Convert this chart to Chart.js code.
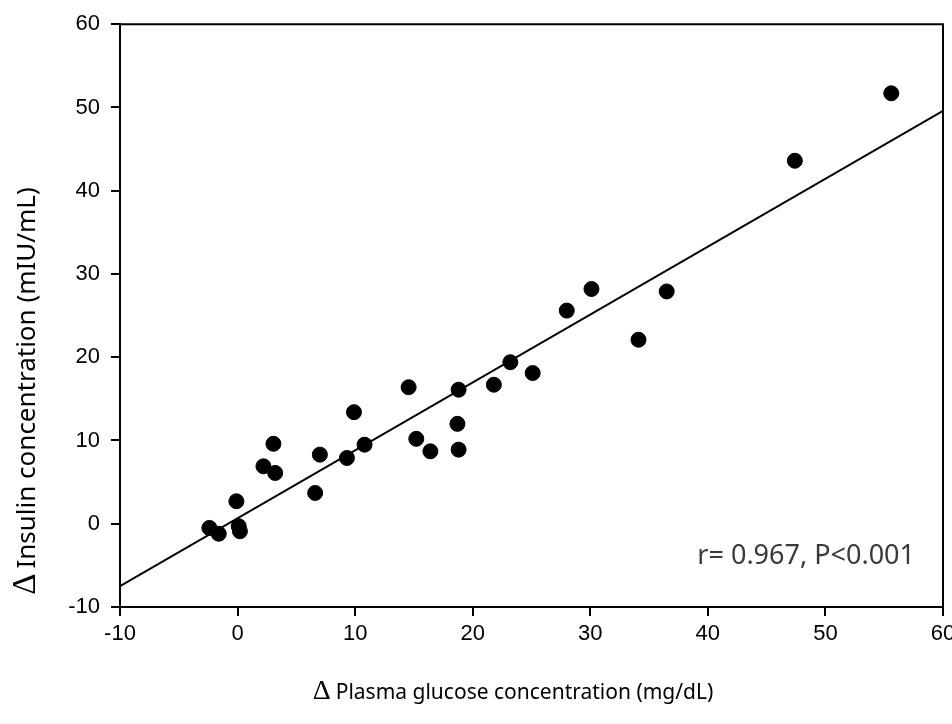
<!DOCTYPE html>
<html>
<head>
<meta charset="utf-8">
<script src="https://cdn.jsdelivr.net/npm/chart.js@4.4.1/dist/chart.umd.min.js"></script>
<style>
    html, body { margin: 0; padding: 0; background: #fff; overflow: hidden; }
    #wrap { width: 972px; height: 724px; }
</style>
</head>
<body>
<div id="wrap"><canvas id="scatterChart"></canvas></div>
<script>
// Δ glucose vs Δ insulin, one point per subject
const glucoseDelta = [55.6, 47.4, 36.5, 34.1, 30.1, 28.0, 25.1, 23.2, 21.8, 18.8, 18.7, 18.8,
                      16.4, 15.2, 14.55, 10.8, 9.9, 9.3, 7.0, 6.6, 3.05, 3.2, 2.2,
                      -0.1, 0.1, 0.2, -2.4, -1.6];
const insulinDelta = [51.7, 43.6, 27.9, 22.1, 28.2, 25.6, 18.1, 19.4, 16.7, 16.1, 12.0, 8.9,
                      8.7, 10.2, 16.4, 9.5, 13.4, 7.9, 8.3, 3.7, 9.6, 6.1, 6.9,
                      2.7, -0.3, -0.9, -0.5, -1.2];

// regression line end points
const fitX = [-10, 60];
const fitY = [-7.5, 49.6];

// axis range and step (both axes)
const axisMin = -10;
const axisMax = 60;
const tickStep = 10;

const xTitle = 'Plasma glucose concentration (mg/dL)';
const yTitle = 'Insulin concentration (mIU/mL)';
const statText = 'r= 0.967, P<0.001';

const tickFont = { family: '"Liberation Sans", Arial, sans-serif', size: 22 };

// Δ in a larger serif face, followed by the title text
function drawTitle(ctx, text, textSize, deltaSize) {
    ctx.font = deltaSize + 'px "Liberation Serif", serif';
    const dw = ctx.measureText('Δ').width;
    ctx.font = textSize + 'px "Noto Sans", sans-serif';
    const tw = ctx.measureText(text).width;
    const gap = 5;
    const start = -(dw + gap + tw) / 2;
    ctx.textAlign = 'left';
    ctx.textBaseline = 'alphabetic';
    ctx.font = deltaSize + 'px "Liberation Serif", serif';
    ctx.fillText('Δ', start, textSize * 0.36);
    ctx.font = textSize + 'px "Noto Sans", sans-serif';
    ctx.fillText(text, start + dw + gap, textSize * 0.36);
}

// closes the box on the top and right sides, axis titles and the r / P note
const frameAndNote = {
    id: 'frameAndNote',
    afterDatasetsDraw(chart) {
        const { ctx, chartArea: a, scales } = chart;
        ctx.save();
        ctx.strokeStyle = '#000';
        ctx.lineWidth = 2;
        ctx.beginPath();
        ctx.moveTo(a.left, a.top);
        ctx.lineTo(a.right, a.top);
        ctx.lineTo(a.right, a.bottom);
        ctx.stroke();

        ctx.fillStyle = '#000';
        ctx.save();
        ctx.translate(513, 691);
        drawTitle(ctx, xTitle, 21, 28);
        ctx.restore();

        ctx.save();
        ctx.translate(26, 391);
        ctx.rotate(-Math.PI / 2);
        drawTitle(ctx, yTitle, 26, 33);
        ctx.restore();

        ctx.fillStyle = '#3a3a3a';
        ctx.font = '27px "Noto Sans", sans-serif';
        ctx.textAlign = 'right';
        ctx.textBaseline = 'middle';
        ctx.fillText(statText, 915, scales.y.getPixelForValue(-3.9));
        ctx.restore();
    }
};

const ctx = document.getElementById('scatterChart');

new Chart(ctx, {
    type: 'scatter',
    data: {
        datasets: [
            {
                type: 'line',
                data: fitX.map((x, i) => ({ x: x, y: fitY[i] })),
                borderColor: '#000',
                borderWidth: 2,
                pointRadius: 0,
                fill: false,
                order: 2
            },
            {
                data: glucoseDelta.map((x, i) => ({ x: x, y: insulinDelta[i] })),
                backgroundColor: '#000',
                borderColor: '#000',
                pointRadius: 7.5,
                pointHoverRadius: 7.5,
                order: 1
            }
        ]
    },
    options: {
        responsive: true,
        maintainAspectRatio: false,
        animation: false,
        layout: { padding: { top: 19, right: 29, left: 0, bottom: 0 } },
        plugins: {
            legend: { display: false },
            tooltip: { enabled: false }
        },
        scales: {
            x: {
                type: 'linear',
                min: axisMin,
                max: axisMax,
                border: { display: true, color: '#000', width: 2 },
                grid: { drawOnChartArea: false, drawTicks: true, tickLength: 9, color: '#000', lineWidth: 2 },
                ticks: { stepSize: tickStep, color: '#000', font: tickFont, padding: 5, maxRotation: 0 },
                afterFit(scale) { scale.height = 117; }
            },
            y: {
                type: 'linear',
                min: axisMin,
                max: axisMax,
                border: { display: true, color: '#000', width: 2 },
                grid: { drawOnChartArea: false, drawTicks: true, tickLength: 9, color: '#000', lineWidth: 2 },
                ticks: { stepSize: tickStep, color: '#000', font: tickFont, padding: 11 },
                afterFit(scale) { scale.width = 120; }
            }
        }
    },
    plugins: [frameAndNote]
});
</script>
</body>
</html>
